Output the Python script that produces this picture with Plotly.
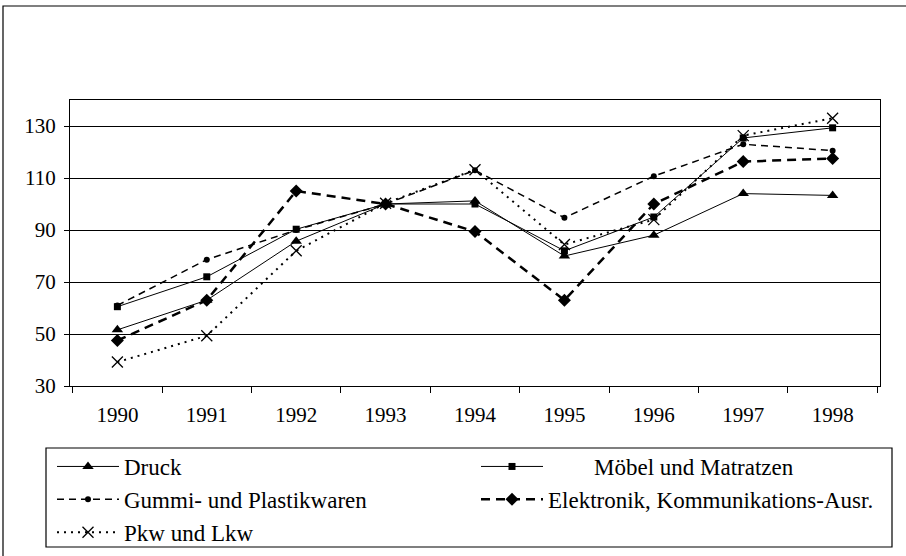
import plotly.graph_objects as go

years = ["1990", "1991", "1992", "1993", "1994", "1995", "1996", "1997", "1998"]
druck = [51.6, 63.0, 85.7, 100.0, 101.2, 80.0, 88.0, 104.0, 103.3]
moebel = [60.5, 72.0, 90.3, 100.0, 100.0, 82.0, 95.0, 125.4, 129.3]
gummi = [61.0, 78.6, 90.0, 100.0, 113.0, 94.7, 110.7, 123.0, 120.5]
elektronik = [47.5, 63.0, 105.0, 100.0, 89.4, 63.0, 100.0, 116.3, 117.5]
pkw = [39.2, 49.3, 82.0, 100.3, 113.2, 84.4, 94.0, 126.3, 133.0]
yticks = [30, 50, 70, 90, 110, 130]

names = ["Druck", "\u00a0" * 8 + "Möbel und Matratzen", "Gummi- und Plastikwaren",
         "Elektronik, Kommunikations-Ausr.", "Pkw und Lkw"]

fig = go.Figure()
fig.add_trace(go.Scatter(x=years, y=druck, name=names[0], mode="lines+markers", legend="legend",
                         line=dict(color="black", width=1),
                         marker=dict(symbol="triangle-up", size=10, color="black")))
fig.add_trace(go.Scatter(x=years, y=moebel, name=names[1], mode="lines+markers", legend="legend2",
                         line=dict(color="black", width=1),
                         marker=dict(symbol="square", size=7, color="black")))
fig.add_trace(go.Scatter(x=years, y=gummi, name=names[2], mode="lines+markers", legend="legend",
                         line=dict(color="black", width=1.5, dash="7px,5px"),
                         marker=dict(symbol="circle", size=6, color="black")))
fig.add_trace(go.Scatter(x=years, y=elektronik, name=names[3], mode="lines+markers", legend="legend2",
                         line=dict(color="black", width=2.5, dash="9px,6px"),
                         marker=dict(symbol="diamond", size=10, color="black")))
fig.add_trace(go.Scatter(x=years, y=pkw, name=names[4], mode="lines+markers", legend="legend",
                         line=dict(color="black", width=2, dash="2px,5px"),
                         marker=dict(symbol="x-thin-open", size=11, color="black",
                                     line=dict(color="black", width=1.3))))

# body margin is removed in the page (post_script), so screen px == figure px
W, H = 906, 556
PL, PR, PT, PB = 70, 880, 100, 386          # plot area in screen px
L, T = PL, PT
R, B = W - PR, H - PB
pw, ph = PR - PL, PB - PT

def px(x):
    return (x - PL) / pw

def py(y):
    return (PB - y) / ph

leg_common = dict(orientation="v", xanchor="left", yanchor="top", font=dict(size=23),
                  itemwidth=62, bgcolor="rgba(0,0,0,0)", borderwidth=0, tracegroupgap=0)

fig.update_layout(
    width=W, height=H,
    margin=dict(l=L, r=R, t=T, b=B, autoexpand=False),
    paper_bgcolor="white", plot_bgcolor="white",
    font=dict(family="Liberation Serif, Times New Roman, serif", size=21, color="black"),
    showlegend=True,
    legend=dict(x=px(52), y=py(445), **leg_common),
    legend2=dict(x=px(476), y=py(445), **leg_common),
    shapes=[
        dict(type="rect", xref="paper", yref="paper", x0=px(3), x1=px(915), y0=py(570), y1=py(6),
             line=dict(color="black", width=1.2), fillcolor="rgba(0,0,0,0)", layer="below"),
        dict(type="rect", xref="paper", yref="paper", x0=px(46), x1=px(892), y0=py(547), y1=py(448),
             line=dict(color="black", width=1.2), fillcolor="rgba(0,0,0,0)"),
    ],
)
fig.update_xaxes(type="category", tickson="boundaries", ticks="outside", ticklen=6,
                 tickcolor="black", showgrid=False, showline=True, linecolor="black",
                 linewidth=1, mirror=True, tickfont=dict(size=21), ticklabelstandoff=10)
fig.update_yaxes(range=[30, 140], tickvals=yticks, ticks="outside", ticklen=5,
                 tickcolor="black", showgrid=True, gridcolor="black", gridwidth=1,
                 showline=True, linecolor="black", linewidth=1, mirror=True,
                 zeroline=False, tickfont=dict(size=21), ticklabelstandoff=4)

fig.write_html("out.html", config={"displayModeBar": False},
               post_script="document.body.style.margin='0px';document.body.style.overflow='hidden';")
